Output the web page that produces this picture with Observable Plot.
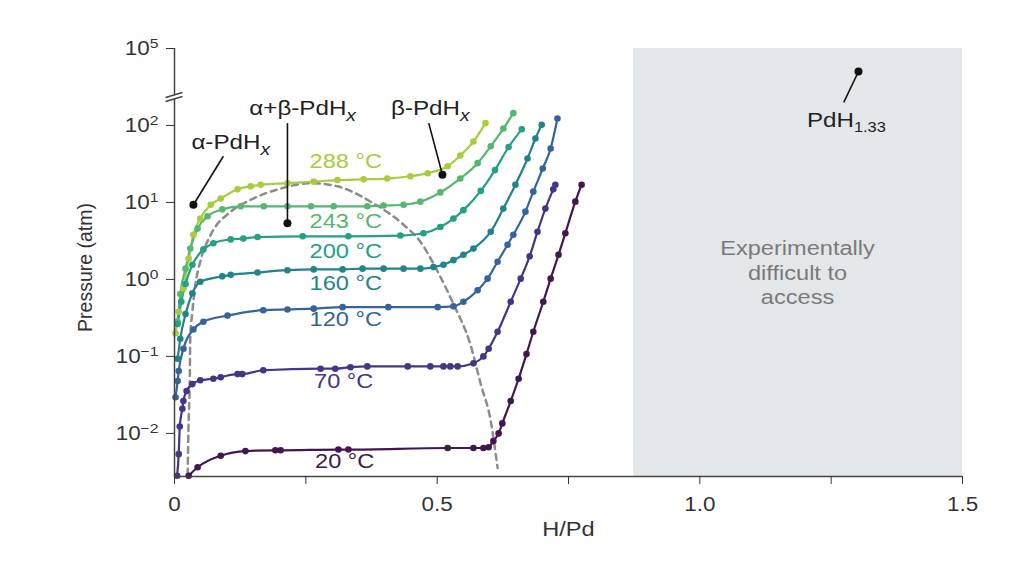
<!DOCTYPE html>
<html><head><meta charset="utf-8">
<script src="https://cdn.jsdelivr.net/npm/d3@7"></script>
<script src="https://cdn.jsdelivr.net/npm/@observablehq/plot@0.6"></script>
<style>html,body{margin:0;padding:0;background:#fff;}#chart{width:1024px;height:576px;}</style>
</head><body><div id="chart"></div>
<script>
// Each point: [H/Pd, log10 of pressure in atm]
const t288 = [[0.002,-0.70],[0.008,-0.42],[0.017,-0.12],[0.027,0.27],[0.036,0.58],[0.049,0.79],[0.069,0.97],[0.088,1.05],[0.120,1.17],[0.145,1.21],[0.164,1.23],[0.215,1.25],[0.265,1.27],[0.310,1.29],[0.360,1.30],[0.405,1.31],[0.449,1.34],[0.482,1.38],[0.520,1.47],[0.544,1.61],[0.569,1.79],[0.592,2.03]];
const t243 = [[0.006,-0.55],[0.011,-0.19],[0.021,0.14],[0.030,0.40],[0.044,0.66],[0.063,0.82],[0.091,0.91],[0.126,0.95],[0.170,0.95],[0.215,0.95],[0.260,0.95],[0.303,0.95],[0.367,0.95],[0.398,0.96],[0.436,0.97],[0.468,1.01],[0.506,1.13],[0.544,1.31],[0.577,1.51],[0.602,1.73],[0.626,1.96],[0.645,2.16]];
const t200 = [[0.006,-0.58],[0.013,-0.29],[0.021,-0.06],[0.034,0.19],[0.055,0.39],[0.074,0.47],[0.107,0.52],[0.131,0.53],[0.158,0.55],[0.244,0.56],[0.331,0.56],[0.430,0.57],[0.474,0.60],[0.506,0.68],[0.531,0.79],[0.550,0.90],[0.583,1.15],[0.610,1.42],[0.636,1.72],[0.661,1.95]];
const t160 = [[0.006,-1.03],[0.011,-0.77],[0.021,-0.45],[0.034,-0.18],[0.049,-0.03],[0.091,0.04],[0.107,0.06],[0.158,0.09],[0.215,0.12],[0.265,0.13],[0.320,0.13],[0.358,0.14],[0.398,0.14],[0.436,0.14],[0.468,0.14],[0.493,0.16],[0.512,0.19],[0.531,0.25],[0.550,0.32],[0.569,0.40],[0.602,0.62],[0.626,0.92],[0.649,1.23],[0.672,1.57],[0.687,1.83],[0.699,2.01]];
const t120 = [[0.002,-1.53],[0.006,-1.32],[0.008,-1.19],[0.017,-0.90],[0.036,-0.65],[0.055,-0.55],[0.101,-0.47],[0.169,-0.40],[0.215,-0.39],[0.265,-0.38],[0.320,-0.36],[0.407,-0.36],[0.501,-0.36],[0.531,-0.35],[0.550,-0.29],[0.577,-0.14],[0.596,0.01],[0.615,0.23],[0.634,0.45],[0.645,0.58],[0.668,0.88],[0.683,1.14],[0.701,1.44],[0.716,1.70],[0.729,2.09]];
const t70 = [[0.005,-2.55],[0.008,-2.27],[0.010,-1.91],[0.015,-1.68],[0.017,-1.58],[0.023,-1.45],[0.034,-1.36],[0.049,-1.31],[0.074,-1.29],[0.088,-1.27],[0.120,-1.23],[0.129,-1.23],[0.169,-1.18],[0.278,-1.16],[0.306,-1.16],[0.335,-1.14],[0.367,-1.13],[0.444,-1.13],[0.487,-1.13],[0.512,-1.13],[0.525,-1.13],[0.539,-1.13],[0.569,-1.09],[0.588,-1.00],[0.598,-0.90],[0.615,-0.68],[0.640,-0.29],[0.659,0.01],[0.676,0.30],[0.691,0.62],[0.706,0.92],[0.721,1.17],[0.725,1.23]];
const t20 = [[0.027,-2.55],[0.044,-2.44],[0.088,-2.29],[0.135,-2.23],[0.192,-2.22],[0.202,-2.22],[0.312,-2.21],[0.331,-2.21],[0.520,-2.19],[0.569,-2.19],[0.588,-2.19],[0.598,-2.18],[0.607,-2.10],[0.617,-2.00],[0.624,-1.87],[0.640,-1.58],[0.655,-1.29],[0.670,-0.97],[0.683,-0.68],[0.702,-0.29],[0.716,0.01],[0.731,0.32],[0.744,0.60],[0.763,1.01],[0.775,1.23]];

const temps = ["288 °C","243 °C","200 °C","160 °C","120 °C","70 °C","20 °C"];
const tempColors = ["#a5cd3e","#56b870","#23a085","#21838c","#35649a","#463587","#42174e"];
const tempPoints = [t288,t243,t200,t160,t120,t70,t20];
const tempLabelAt = [[0.326,1.53],[0.326,0.75],[0.326,0.36],[0.326,-0.05],[0.326,-0.52],[0.322,-1.32],[0.324,-2.36]];

// two-phase boundary (dashed dome)
const dome = [[0.025,-2.54],[0.027,-1.81],[0.029,-1.36],[0.030,-0.77],[0.034,-0.42],[0.040,-0.06],[0.049,0.23],[0.069,0.58],[0.107,0.88],[0.150,1.05],[0.202,1.18],[0.259,1.25],[0.310,1.21],[0.373,1.01],[0.436,0.71],[0.468,0.49],[0.501,0.10],[0.531,-0.32],[0.563,-0.84],[0.583,-1.36],[0.602,-1.84],[0.615,-2.45]];

const yTicks = [-2,-1,0,1,2,5];
const xTicks = [0,0.25,0.5,0.75,1,1.25,1.5];
const xTickLabels = {"0":"0","0.5":"0.5","1":"1.0","1.5":"1.5"};

const phaseNotes = [
  {text:"α-PdH_x", x:0.107, y:1.78},
  {text:"α+β-PdH_x", x:0.244, y:2.22},
  {text:"β-PdH_x", x:0.487, y:2.22},
  {text:"PdH_1.33", x:1.279, y:2.07}
];
const pointers = [
  {x1:0.093, y1:1.60, x2:0.036, y2:0.97},
  {x1:0.215, y1:2.03, x2:0.215, y2:0.73},
  {x1:0.484, y1:2.03, x2:0.510, y2:1.36},
  {x1:1.274, y1:2.30, x2:1.302, y2:3.78}
];
const grayZone = [{x1:0.874, x2:1.5}];
const grayNote = [{text:"Experimentally\ndifficult to\naccess", x:1.186, y:0.10}];

// scale / broken axis layout (log10 pressure)
const yMin = -2.56, yBreak = 2.35, yMax = 5;
const axisSegments = [{y1:yMin, y2:2.337},{y1:2.562, y2:yMax}];
const breakMarks = [{x1:-0.0171,y1:2.403,x2:0.0152,y2:2.668},{x1:-0.0171,y1:2.311,x2:0.0152,y2:2.456}];

const rows = tempPoints.flatMap((pts,i) => pts.map(([x,y]) => ({t:temps[i], x, y})));
const labels = temps.map((t,i) => ({t, x:tempLabelAt[i][0], y:tempLabelAt[i][1]}));
const domeRows = dome.map(([x,y]) => ({x,y}));

const axisColor = "#444";
const chart = Plot.plot({
  width:1024, height:576,
  marginLeft:174, marginRight:62, marginTop:48, marginBottom:100,
  x:{domain:[0,1.5]},
  y:{type:"linear", domain:[yMin,yBreak,yMax], range:[476,98,48]},
  color:{domain:temps, range:tempColors},
  style:{fontFamily:"'Liberation Sans', Arial, sans-serif", background:"#fff", color:"#333"},
  marks:[
    Plot.rect(grayZone, {x1:"x1", x2:"x2", y1:yMin, y2:yMax, fill:"#e4e7e9"}),
    Plot.text(grayNote, {x:"x", y:"y", text:"text", fill:"#7a7a7a", fontSize:20.5, lineHeight:1.2}),
    Plot.line(domeRows, {x:"x", y:"y", stroke:"#8c8c8c", strokeWidth:2.5, strokeDasharray:"6,5", curve:"monotone-x"}),
    Plot.line(rows, {x:"x", y:"y", z:"t", stroke:"t", strokeWidth:2.2, curve:"monotone-x"}),
    Plot.dot(rows, {x:"x", y:"y", fill:"t", r:3.3}),
    Plot.text(labels, {x:"x", y:"y", text:"t", fill:"t", fontSize:20.5}),
    Plot.link(pointers, {x1:"x1", y1:"y1", x2:"x2", y2:"y2", stroke:"#111", strokeWidth:1.6}),
    Plot.dot(pointers, {x:"x2", y:"y2", r:4, fill:"#111"}),
    Plot.text(phaseNotes, {x:"x", y:"y", text:"text", fill:"#222", fontSize:21}),
    Plot.ruleY([yMin], {x1:0, x2:1.5, stroke:axisColor, strokeWidth:1.5}),
    Plot.ruleX(axisSegments, {x:0, y1:"y1", y2:"y2", stroke:axisColor, strokeWidth:1.5}),
    Plot.link(breakMarks, {x1:"x1", y1:"y1", x2:"x2", y2:"y2", stroke:axisColor, strokeWidth:1.5}),
    Plot.axisY({ticks:yTicks, tickFormat:d => "10^" + (d < 0 ? "\u2212" + (-d) : d), tickSize:8, tickPadding:8, fontSize:19.5, label:null, color:"#333"}),
    Plot.axisX({ticks:xTicks, tickFormat:d => xTickLabels[String(d)] ?? "", tickSize:8, tickPadding:13, fontSize:19.5, label:null, color:"#333"}),
    Plot.text(["H/Pd"], {frameAnchor:"bottom", dy:59, text:d => d, fontSize:20.5, fill:"#333"}),
    Plot.text(["Pressure (atm)"], {frameAnchor:"left", textAnchor:"middle", dx:-89, dy:5, rotate:-90, text:d => d, fontSize:19.5, fill:"#333"})
  ]
});
document.getElementById("chart").append(chart);

const NS = "http://www.w3.org/2000/svg";
chart.querySelectorAll("text").forEach(t => {
  if (t.querySelector("tspan")) return;
  const s = t.textContent;
  let m;
  if ((m = s.match(/^(.*)\^(.*)$/))) {
    t.textContent = "";
    const a = document.createElementNS(NS,"tspan"); a.textContent = m[1]; t.append(a);
    const b = document.createElementNS(NS,"tspan"); b.textContent = m[2];
    b.setAttribute("dy","-0.5em"); b.setAttribute("font-size","0.7em"); t.append(b);
  } else if ((m = s.match(/^(.*)_(.*)$/))) {
    t.textContent = "";
    const a = document.createElementNS(NS,"tspan"); a.textContent = m[1]; t.append(a);
    const b = document.createElementNS(NS,"tspan"); b.textContent = m[2];
    b.setAttribute("dy","0.35em"); b.setAttribute("font-size", m[2] === "x" ? "0.8em" : "0.68em");
    if (m[2] === "x") b.setAttribute("font-style","italic");
    t.append(b);
  }
});
// the reference figure is stretched horizontally; mimic that on the text
const S = 1.15;
chart.querySelectorAll("text").forEach(t => {
  if (t.textContent === "Pressure (atm)") return;
  const lines = t.querySelectorAll("tspan[x]");
  const targets = lines.length ? [...lines] : [t];
  targets.forEach(el => {
    const L = el.getComputedTextLength();
    if (L > 0) { el.setAttribute("textLength", L * S); el.setAttribute("lengthAdjust", "spacingAndGlyphs"); }
  });
});
</script>
</body></html>
